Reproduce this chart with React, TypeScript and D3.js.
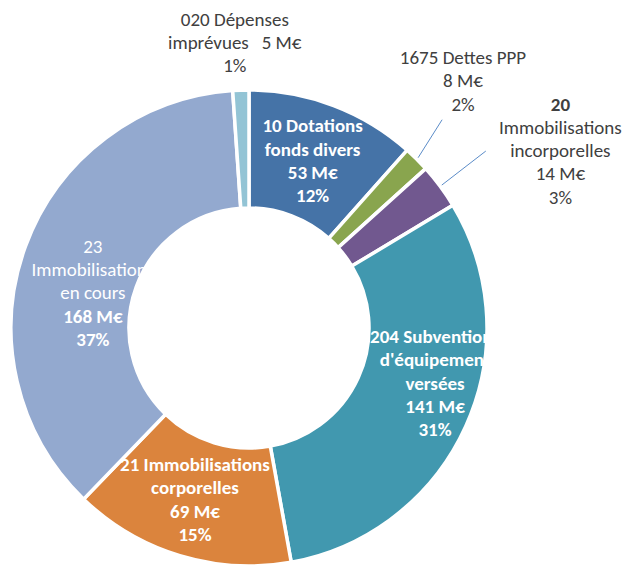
import React, { useEffect, useRef } from "react";
import * as d3 from "d3";

// slices, clockwise from 12 o'clock
const names = [
  ["10 Dotations", "fonds divers"],
  ["1675 Dettes PPP"],
  ["20", "Immobilisations", "incorporelles"],
  ["204 Subventions", "d'équipement", "versées"],
  ["21 Immobilisations", "corporelles"],
  ["23", "Immobilisations", "en cours"],
  ["020 Dépenses", "imprévues"],
];
const values = [53, 8, 14, 141, 69, 168, 5];
const colors = ["#4573a7", "#89a54e", "#71588f", "#4198af", "#db843d", "#93a9cf", "#93c4d5"];

// inside labels sit near the centroid, outside ones get a leader line (or none)
const inside = [true, false, false, true, true, true, false];
const labelShift = [
  [0, 0], [4, -36], [72, 0], [23, -19], [-2, 0], [12, 26], [-4, 12],
];

const W = 623;
const H = 565;

const App = () => {
  const ref = useRef(null);

  useEffect(() => {
    const svg = d3.select(ref.current);
    svg.selectAll("*").remove();

    const cx = 249;
    const cy = 328;
    const R = 238;
    const r = 120;
    const total = d3.sum(values);

    const pie = d3.pie().sort(null).value(d => d);
    const arcs = pie(values);
    const arc = d3.arc().innerRadius(r).outerRadius(R);
    const outerArc = d3.arc().innerRadius(R + 60).outerRadius(R + 60);
    const edgeArc = d3.arc().innerRadius(R + 2).outerRadius(R + 2);

    const g = svg.append("g").attr("transform", `translate(${cx},${cy})`);

    g.selectAll("path.slice")
      .data(arcs)
      .enter()
      .append("path")
      .attr("class", "slice")
      .attr("d", arc)
      .attr("fill", (_, i) => colors[i])
      .attr("stroke", "#fff")
      .attr("stroke-width", 3.5);

    const lh = 23.3;
    const font = "Calibri, Carlito, 'Open Sans', sans-serif";

    arcs.forEach((a, i) => {
      const pct = Math.round((values[i] / total) * 100) + "%";
      const isIn = inside[i];
      const [px, py] = isIn ? arc.centroid(a) : outerArc.centroid(a);
      const x = px + labelShift[i][0];
      let lines;
      if (i === 6) {
        lines = [
          { t: names[i][0], b: false },
          { t: names[i][1] + "\u00a0\u00a0\u00a0" + values[i] + " M€", b: false },
          { t: pct, b: false },
        ];
      } else if (i === 2) {
        lines = [
          { t: names[i][0], b: true },
          ...names[i].slice(1).map(t => ({ t, b: false })),
          { t: values[i] + " M€", b: false },
          { t: pct, b: false },
        ];
      } else if (i === 5) {
        lines = [
          ...names[i].map(t => ({ t, b: false })),
          { t: values[i] + " M€", b: true },
          { t: pct, b: true },
        ];
      } else {
        lines = [
          ...names[i].map(t => ({ t, b: isIn })),
          { t: values[i] + " M€", b: isIn },
          { t: pct, b: isIn },
        ];
      }
      const y0 = py + labelShift[i][1] - ((lines.length - 1) * lh) / 2;
      const txt = g.append("text")
        .attr("text-anchor", "middle")
        .attr("font-family", font)
        .attr("font-size", 19)
        .attr("fill", isIn ? "#fff" : "#404040");
      lines.forEach((l, k) => {
        txt.append("tspan")
          .attr("x", x)
          .attr("y", y0 + k * lh)
          .attr("dy", "0.35em")
          .attr("font-weight", l.b ? "bold" : "normal")
          .text(l.t);
      });
    });

    // leader lines for the two thin slices on the right
    const leaders = [
      [1, [24, -38]],
      [2, [44, -34]],
    ];
    leaders.forEach(([i, [dx, dy]]) => {
      const [sx, sy] = edgeArc.centroid(arcs[i]);
      g.append("line")
        .attr("x1", sx)
        .attr("y1", sy)
        .attr("x2", sx + dx)
        .attr("y2", sy + dy)
        .attr("stroke", "#5b8cc8")
        .attr("stroke-width", 1);
    });
  }, []);

  return (
    <svg
      ref={ref}
      width={W}
      height={H}
      style={{ position: "absolute", left: 0, top: 0, background: "#fff" }}
    />
  );
};

export default App;
